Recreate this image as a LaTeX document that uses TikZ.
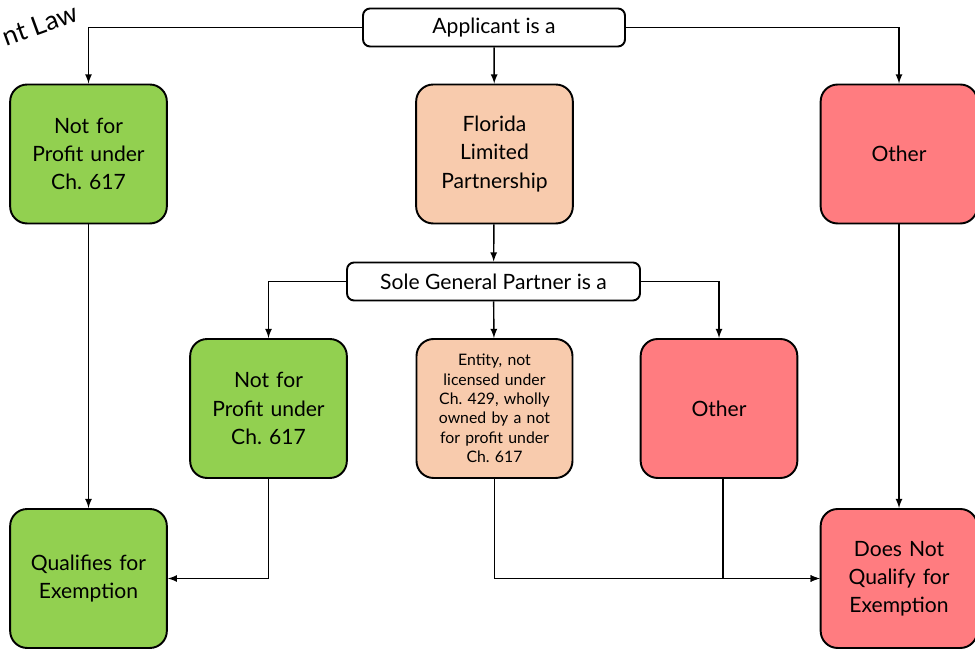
\documentclass[tikz,border=0pt]{standalone}
\usepackage{fontspec}
\setmainfont{Lato}
\usetikzlibrary{arrows.meta,calc}
\tikzset{>=latex}
\frenchspacing
\definecolor{nfpgreen}{HTML}{92D050}
\definecolor{flpeach}{HTML}{F8CBAD}
\definecolor{notred}{HTML}{FF7C80}
\tikzset{
  decision/.style={draw, line width=1.1pt, rounded corners=4pt, fill=white,
    minimum width=#1, minimum height=0.76cm, font=\fontsize{12}{15}\selectfont},
  outcome/.style={draw, line width=1.1pt, rounded corners=0.34cm, fill=#1,
    minimum width=3.12cm, minimum height=2.78cm, text width=2.9cm, align=center,
    font=\fontsize{12}{16}\selectfont},
  link/.style={->, line width=0.8pt}
}

\begin{document}
\begin{tikzpicture}[x=0.02cm, y=-0.02cm]

            \useasboundingbox (0,0) rectangle (975,651);
            \clip (0,0) rectangle (975,651);

            \node[rotate=20, anchor=base east, inner sep=0pt, font=\fontsize{15}{17}\selectfont] (stamp) at (80,20) {nt Law};

            % first question
            \node[decision=5.24cm] (app) at (494,27.5) {Applicant is a};
            \node[outcome=nfpgreen] (nfpA) at (88.5,154) {Not for\\Profit under\\Ch. 617};
            \node[outcome=flpeach] (flp) at (494.5,154) {Florida\\Limited\\Partnership};
            \node[outcome=notred] (otherA) at (899,154) {Other};

            % second question
            \node[decision=5.86cm] (sole) at (493.5,281.5) {Sole General Partner is a};
            \node[outcome=nfpgreen] (nfpB) at (268.5,408.5) {Not for\\Profit under\\Ch. 617};
            \node[outcome=flpeach, font=\fontsize{9}{11}\selectfont, text width=2.7cm] (entity) at (494.5,408.5)
              {Entity, not\\licensed under\\Ch. 429, wholly\\owned by a not\\for profit under\\Ch. 617};
            \node[outcome=notred] (otherB) at (719,408.5) {Other};

            % results
            \node[outcome=nfpgreen] (qual) at (88.5,578.5) {Qualifies for\\Exemption};
            \node[outcome=notred] (dnq) at (899,578.5) {Does Not\\Qualify for\\Exemption};

            \draw[link] (app.west) -| (nfpA);
            \draw[link] (app) -- (flp);
            \draw[link] (app.east) -| (otherA);
            \draw[link] (flp) -- (sole);
            \draw[link] (sole.west) -| (nfpB);
            \draw[link] (sole) -- (entity);
            \draw[link] (sole.east) -| (otherB);
            \draw[link] (nfpA) -- (qual);
            \draw[link] (otherA) -- (dnq);
            \draw[link] (nfpB) |- (qual);
            \draw[link] (entity) |- (dnq);
            \draw[link] ($(otherB.south)+(4,0)$) |- (dnq);
          \end{tikzpicture}
\end{document}
